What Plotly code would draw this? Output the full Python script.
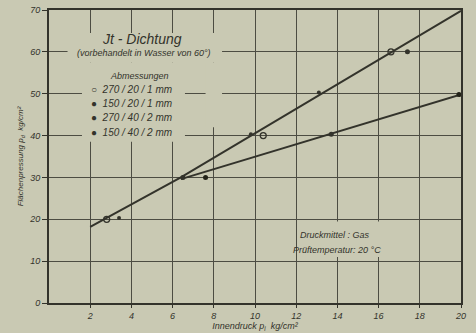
import plotly.graph_objects as go

# --- data ---
upper_x = [2.0, 6.0, 6.4, 20.0]
upper_y = [18.2, 29.0, 30.0, 69.8]
lower_x = [6.4, 20.0]
lower_y = [29.6, 49.8]

series_names = ["270 / 20 / 1 mm", "150 / 20 / 1 mm", "270 / 40 / 2 mm", "150 / 40 / 2 mm"]
s1_x = [2.8, 10.4, 16.6]
s1_y = [20.0, 40.0, 60.0]
s2_x = [3.4, 9.8, 13.1]
s2_y = [20.3, 40.3, 50.3]
s3_x = [6.5, 13.7, 17.4]
s3_y = [30.0, 40.3, 60.0]
s4_x = [7.6, 19.9]
s4_y = [30.0, 49.8]

x_ticks = [2, 4, 6, 8, 10, 12, 14, 16, 18, 20]
y_ticks = [0, 10, 20, 30, 40, 50, 60, 70]

BG = "#c9c9b3"
INK = "#33332b"
GRID = "#4c4c42"
FONT = "Liberation Sans"

fig = go.Figure()
fig.add_trace(go.Scatter(x=upper_x, y=upper_y, mode="lines",
                         line=dict(color=INK, width=2), showlegend=False, hoverinfo="skip"))
fig.add_trace(go.Scatter(x=lower_x, y=lower_y, mode="lines",
                         line=dict(color=INK, width=2), showlegend=False, hoverinfo="skip"))

marker_specs = [
    (s1_x, s1_y, dict(symbol="circle-open", size=6, color=INK, line=dict(width=1.3, color=INK))),
    (s2_x, s2_y, dict(symbol="circle", size=4, color=INK)),
    (s3_x, s3_y, dict(symbol="circle", size=5, color=INK)),
    (s4_x, s4_y, dict(symbol="circle", size=5, color="#222218")),
]
for (xs, ys, mk), name in zip(marker_specs, series_names):
    fig.add_trace(go.Scatter(x=xs, y=ys, mode="markers", marker=mk, name=name, showlegend=False))

# knockout areas behind texts (hide grid lines, stay under traces)
knock = [
    (0.9, 8.4, 57.5, 64.5),
    (1.6, 6.6, 38.5, 57.5),
    (7.6, 8.4, 42.0, 57.5),
    (12.4, 17.4, 11.0, 19.5),
]
shapes = [dict(type="rect", xref="x", yref="y", x0=a, x1=b, y0=c, y1=d,
               fillcolor=BG, line=dict(width=0), layer="between") for a, b, c, d in knock]

ann = []
def txt(x, y, s, size, xanchor="center"):
    ann.append(dict(x=x, y=y, xref="x", yref="y", text=s, showarrow=False, xanchor=xanchor,
                    yanchor="middle", font=dict(family=FONT, size=size, color=INK, style="italic")))

txt(4.5, 63.0, "Jt - Dichtung", 14)
txt(4.6, 59.8, "(vorbehandelt in Wasser von 60°)", 9)
txt(4.4, 54.2, "Abmessungen", 9)
sym = ["○", "●", "●", "●"]
rows = [51.1, 47.7, 44.4, 40.8]
for s, n, yy in zip(sym, series_names, rows):
    txt(1.95, yy, s + "  " + n, 10, xanchor="left")
txt(13.9, 16.3, "Druckmittel : Gas", 9)
txt(14.0, 12.6, "Prüftemperatur: 20 °C", 9)

fig.update_layout(
    width=476, height=333,
    margin=dict(l=49, r=15, t=10, b=30),
    paper_bgcolor=BG, plot_bgcolor=BG,
    shapes=shapes, annotations=ann, showlegend=False,
    font=dict(family=FONT, size=9, color=INK, style="italic"),
)
fig.update_xaxes(range=[0, 20], tickvals=x_ticks, ticktext=[str(v) for v in x_ticks],
                 automargin=False,
                 showgrid=True, gridcolor=GRID, gridwidth=1.2, zeroline=False,
                 showline=True, linecolor=INK, linewidth=2, mirror=True,
                 ticks="outside", ticklen=3, tickcolor=INK,
                 tickfont=dict(size=9, style="italic"),
                 title=dict(text="Innendruck p<sub>i</sub>  kg/cm²", standoff=2,
                            font=dict(size=9, style="italic")))
fig.update_yaxes(range=[0, 70], tickvals=y_ticks, ticktext=[str(v) for v in y_ticks],
                 automargin=False,
                 showgrid=True, gridcolor=GRID, gridwidth=1.2, zeroline=False,
                 showline=True, linecolor=INK, linewidth=2, mirror=True,
                 ticks="outside", ticklen=5, tickcolor=INK,
                 tickfont=dict(size=9, style="italic"),
                 title=dict(text="Flächenpressung p<sub>d</sub>  kg/cm²", standoff=4,
                            font=dict(size=8, style="italic")))

fig.write_html("out.html")
